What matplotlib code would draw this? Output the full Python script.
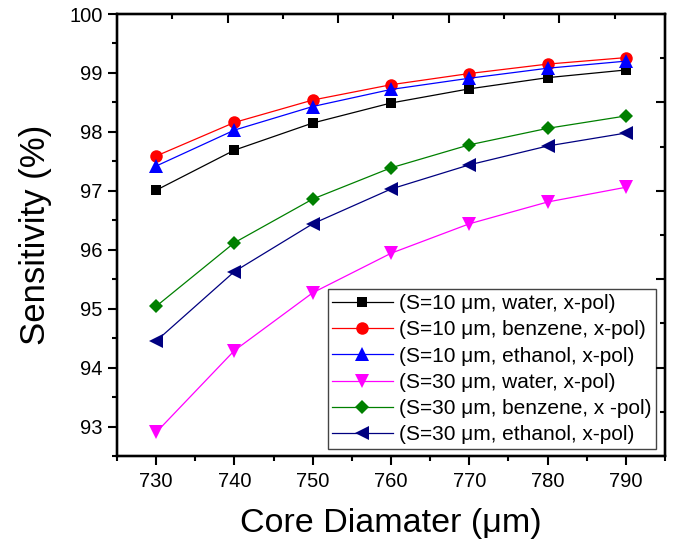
import matplotlib
matplotlib.use("Agg")
import matplotlib.pyplot as plt
from matplotlib.ticker import MultipleLocator, FixedLocator, NullFormatter

plt.rcParams['font.family'] = ['Liberation Sans', 'DejaVu Sans']

core_diameter = [730, 740, 750, 760, 770, 780, 790]
s10_water = [97.01, 97.69, 98.15, 98.49, 98.73, 98.92, 99.05]
s10_benzene = [97.59, 98.16, 98.54, 98.80, 98.99, 99.15, 99.26]
s10_ethanol = [97.42, 98.03, 98.43, 98.72, 98.91, 99.08, 99.20]
s30_water = [92.90, 94.29, 95.27, 95.94, 96.44, 96.81, 97.06]
s30_benzene = [95.04, 96.12, 96.86, 97.39, 97.78, 98.06, 98.27]
s30_ethanol = [94.45, 95.63, 96.44, 97.03, 97.44, 97.76, 97.98]

labels = ['(S=10 μm, water, x-pol)',
          '(S=10 μm, benzene, x-pol)',
          '(S=10 μm, ethanol, x-pol)',
          '(S=30 μm, water, x-pol)',
          '(S=30 μm, benzene, x -pol)',
          '(S=30 μm, ethanol, x-pol)']
series = [s10_water, s10_benzene, s10_ethanol, s30_water, s30_benzene, s30_ethanol]
colors = ['#000000', '#FF0000', '#0000FF', '#FF00FF', '#008000', '#000080']
markers = ['s', 'o', '^', 'v', 'D', '<']
msizes = [7.5, 9, 9.5, 9.5, 7.5, 9.5]

fig = plt.figure(figsize=(6.76, 5.43), dpi=100)
ax = fig.add_axes([117/676, 1 - 456/543, 548/676, 442/543])

for y, lab, c, m, ms in zip(series, labels, colors, markers, msizes):
    ax.plot(core_diameter, y, color=c, marker=m, markersize=ms, lw=0.9,
            markeredgewidth=0, label=lab)

ax.set_xlim(725, 795)
ax.set_ylim(92.5, 100.0)
ax.xaxis.set_major_locator(MultipleLocator(10))
ax.xaxis.set_minor_locator(MultipleLocator(5))
ax.yaxis.set_major_locator(MultipleLocator(1))
ax.yaxis.set_minor_locator(MultipleLocator(0.5))
ax.tick_params(which='both', direction='out', width=1.5, labelsize=14.5, top=False, right=False)
ax.tick_params(which='major', length=6.5)
ax.tick_params(which='minor', length=3.6)
ax.tick_params(axis='y', which='major', pad=4)
ax.tick_params(axis='x', which='major', pad=5)

for sp in ax.spines.values():
    sp.set_linewidth(1.6)

# Secondary top / right tick marks (inward, Origin style)
axt = ax.twiny()
axt.set_xlim(0, 4.955)
axt.xaxis.set_major_locator(FixedLocator([1, 2, 3, 4]))
axt.xaxis.set_minor_locator(FixedLocator([0.5, 1.5, 2.5, 3.5, 4.5]))
axt.xaxis.set_major_formatter(NullFormatter())
axt.tick_params(which='both', direction='in', width=1.5)
axt.tick_params(which='major', length=6.5)
axt.tick_params(which='minor', length=3.6)

axr = ax.twinx()
axr.set_ylim(92.5, 100.0)
axr.yaxis.set_major_locator(FixedLocator([94.0, 95.5, 97.0, 98.5]))
axr.yaxis.set_minor_locator(FixedLocator([93.25, 94.75, 96.25, 97.75, 99.25]))
axr.yaxis.set_major_formatter(NullFormatter())
axr.tick_params(which='both', direction='in', width=1.5)
axr.tick_params(which='major', length=6.5)
axr.tick_params(which='minor', length=3.6)
for a in (axt, axr):
    for sp in a.spines.values():
        sp.set_linewidth(1.6)

ax.set_xlabel('Core Diamater (μm)', fontsize=24.5, labelpad=12)
ax.set_ylabel('Sensitivity (%)', fontsize=25, labelpad=12)

leg = ax.legend(loc='lower right', bbox_to_anchor=(0.9836, 0.0158), fontsize=15,
                frameon=True, fancybox=False, edgecolor='#444444', framealpha=1,
                handlelength=2.9, handletextpad=0.3, labelspacing=0.35,
                borderpad=0.22, borderaxespad=0)
leg.get_frame().set_linewidth(1.0)
leg.set_zorder(10)

fig.savefig('out.png', dpi=100)
